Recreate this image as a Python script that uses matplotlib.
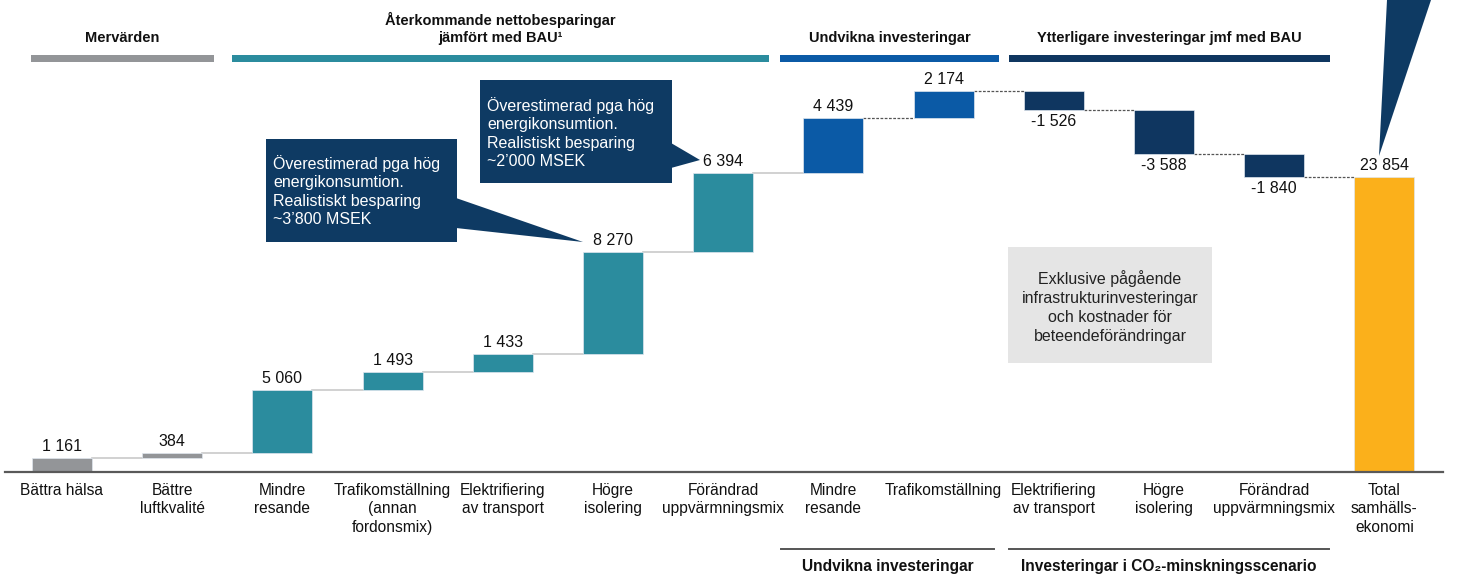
import matplotlib
matplotlib.use("Agg")
import matplotlib.pyplot as plt
from matplotlib.patches import Polygon, Rectangle
import numpy as np

plt.rcParams['font.family'] = ['Liberation Sans', 'DejaVu Sans']

# ---- data ----
categories = ["Bättra hälsa", "Bättre\nluftkvalité", "Mindre\nresande",
              "Trafikomställning\n(annan\nfordonsmix)", "Elektrifiering\nav transport",
              "Högre\nisolering", "Förändrad\nuppvärmningsmix", "Mindre\nresande",
              "Trafikomställning", "Elektrifiering\nav transport", "Högre\nisolering",
              "Förändrad\nuppvärmningsmix", "Total\nsamhälls-\nekonomi"]
values = [1161, 384, 5060, 1493, 1433, 8270, 6394, 4439, 2174, -1526, -3588, -1840]
total = 23854
value_labels = ["1 161", "384", "5 060", "1 493", "1 433", "8 270", "6 394", "4 439",
                "2 174", "-1 526", "-3 588", "-1 840", "23 854"]
groups = ["grey", "grey", "teal", "teal", "teal", "teal", "teal", "blue", "blue",
          "navy", "navy", "navy", "orange"]

colors = {"grey": "#939598", "teal": "#2B8C9E", "blue": "#0B5AA6",
          "navy": "#0F3660", "orange": "#FBB01B"}

# ---- pixel mapping (layout) ----
W, H = 1471, 577
X0, DX = 62.0, 110.2
Y0, SY = 472.0, 0.01237


def px(xp):
    return (xp - X0) / DX


def py(yp):
    return (Y0 - yp) / SY


fig = plt.figure(figsize=(W / 100, H / 100), dpi=100)
ax = fig.add_axes([0, 0, 1, 1])
ax.set_xlim(px(0), px(W))
ax.set_ylim(py(H), py(0))
ax.axis("off")

x = np.arange(len(categories))
cum = np.concatenate([[0], np.cumsum(values)])
bottoms = list(cum[:-1]) + [0]
heights = list(values) + [total]
bw = 0.545
bar_colors = [colors[g] for g in groups]
ax.bar(x, heights, bottom=bottoms, width=bw, color=bar_colors,
       edgecolor="#dfe6ee", linewidth=0.5, zorder=3)

# connectors
for i in range(len(categories) - 1):
    level = cum[i + 1]
    if i <= 6:
        ax.plot([i + bw / 2, i + 1 - bw / 2], [level, level], color="#C9C9C9",
                lw=1.2, zorder=2)
    else:
        ax.plot([i + bw / 2, i + 1 - bw / 2], [level, level], color="#555555",
                lw=0.9, ls=(0, (2.2, 1.2)), zorder=2)

# baseline
ax.plot([px(5), px(1443)], [0, 0], color="#595959", lw=1.6, zorder=4)

# value labels
off = 4 / SY
for i in range(len(categories)):
    b, h = bottoms[i], heights[i]
    if h >= 0:
        ax.text(i, b + h + off, value_labels[i], ha="center", va="bottom",
                fontsize=11.5, color="#111111")
    else:
        ax.text(i, b + h - off, value_labels[i], ha="center", va="top",
                fontsize=11.5, color="#111111")

# category labels
for i, c in enumerate(categories):
    ax.text(i, py(483), c, ha="center", va="top", fontsize=11.2,
            color="#111111", linespacing=1.28)

# top group headers
headers = [
    ("Mervärden", 31, 214, colors["grey"]),
    ("Återkommande nettobesparingar\njämfört med BAU¹", 232, 769, colors["teal"]),
    ("Undvikna investeringar", 780, 999, colors["blue"]),
    ("Ytterligare investeringar jmf med BAU", 1009, 1330, colors["navy"]),
]
for text, x1, x2, col in headers:
    ax.add_patch(Rectangle((px(x1), py(62)), px(x2) - px(x1), py(55) - py(62),
                           color=col, lw=0, zorder=3))
    ax.text(px((x1 + x2) / 2), py(45), text, ha="center", va="bottom",
            fontsize=10.5, fontweight="bold", color="#111111", linespacing=1.25)

# bottom group labels
for text, x1, x2 in [("Undvikna investeringar", 781, 994),
                     ("Investeringar i CO₂-minskningsscenario", 1009, 1329)]:
    ax.plot([px(x1), px(x2)], [py(549), py(549)], color="#555555", lw=1.4)
    ax.text(px((x1 + x2) / 2), py(567), text, ha="center", va="center",
            fontsize=11.2, fontweight="bold", color="#111111")

navy_box = "#0E3A63"
# callout 1
ax.add_patch(Rectangle((px(266), py(242)), px(457) - px(266), py(139) - py(242),
                       color=navy_box, lw=0, zorder=5))
ax.add_patch(Polygon([(px(456), py(198)), (px(583), py(242)), (px(456), py(228))],
                     closed=True, color=navy_box, lw=0, zorder=5))
ax.text(px(273), py(191), "Överestimerad pga hög\nenergikonsumtion.\nRealistiskt besparing\n~3’800 MSEK",
        ha="left", va="center", fontsize=11.5, color="white", linespacing=1.3, zorder=6)

# callout 2
ax.add_patch(Rectangle((px(480), py(183)), px(672) - px(480), py(80) - py(183),
                       color=navy_box, lw=0, zorder=5))
ax.add_patch(Polygon([(px(671), py(143)), (px(700), py(160)), (px(671), py(168))],
                     closed=True, color=navy_box, lw=0, zorder=5))
ax.text(px(487), py(133), "Överestimerad pga hög\nenergikonsumtion.\nRealistiskt besparing\n~2’000 MSEK",
        ha="left", va="center", fontsize=11.5, color="white", linespacing=1.3, zorder=6)

# spike at top right
ax.add_patch(Polygon([(px(1387), py(0)), (px(1431), py(0)), (px(1379), py(156))],
                     closed=True, color=navy_box, lw=0, zorder=5))

# grey note box
ax.add_patch(Rectangle((px(1008), py(363)), px(1212) - px(1008), py(247) - py(363),
                       color="#E5E5E5", lw=0, zorder=5))
ax.text(px(1110), py(307), "Exklusive pågående\ninfrastrukturinvesteringar\noch kostnader för\nbeteendeförändringar",
        ha="center", va="center", fontsize=11.5, color="#222222", linespacing=1.35, zorder=6)

fig.savefig("out.png", dpi=100)
